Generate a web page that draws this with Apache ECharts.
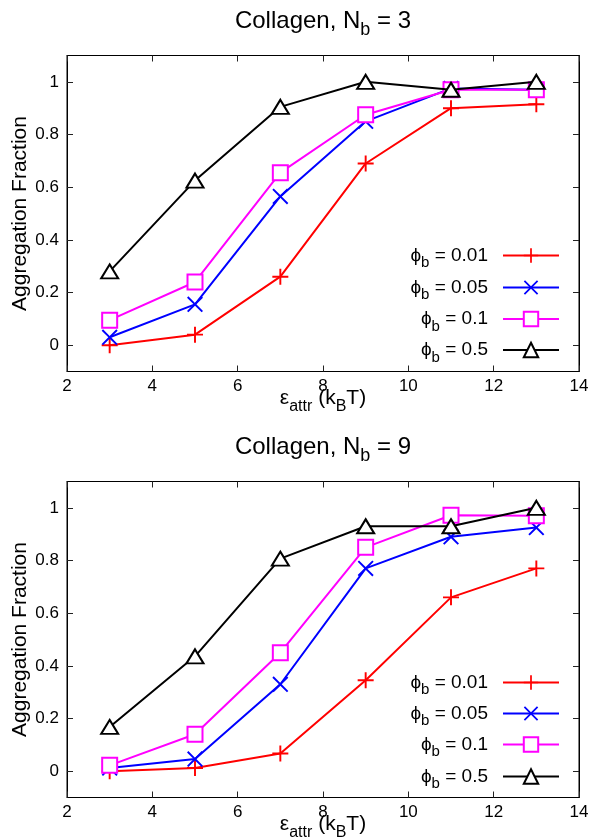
<!DOCTYPE html>
<html><head><meta charset="utf-8">
<script src="https://cdn.jsdelivr.net/npm/echarts@6/dist/echarts.min.js"></script>
<style>html,body{margin:0;padding:0;background:#fff}#c{width:592px;height:837px}</style>
</head><body><div id="c"></div>
<script>
// x values: epsilon_attr (kBT)
const epsAttr = [3, 5, 7, 9, 11, 13];
const phiLabels = ['0.01', '0.05', '0.1', '0.5'];
const panelNb = ['3', '9'];
const xTicks = [2, 4, 6, 8, 10, 12, 14];
const yTicks = [0, 0.2, 0.4, 0.6, 0.8, 1];

// Collagen, N_b = 3
const nb3_phi001 = [0.0, 0.04, 0.26, 0.69, 0.90, 0.915];
const nb3_phi005 = [0.03, 0.155, 0.565, 0.85, 0.975, 0.97];
const nb3_phi01  = [0.095, 0.24, 0.655, 0.875, 0.97, 0.97];
const nb3_phi05  = [0.28, 0.625, 0.905, 1.0, 0.97, 1.0];
// Collagen, N_b = 9
const nb9_phi001 = [0.0, 0.012, 0.067, 0.345, 0.66, 0.77];
const nb9_phi005 = [0.012, 0.046, 0.33, 0.77, 0.89, 0.925];
const nb9_phi01  = [0.022, 0.14, 0.45, 0.85, 0.972, 0.97];
const nb9_phi05  = [0.168, 0.436, 0.807, 0.93, 0.93, 1.0];

const panels = [
  [nb3_phi001, nb3_phi005, nb3_phi01, nb3_phi05],
  [nb9_phi001, nb9_phi005, nb9_phi01, nb9_phi05]
];

const FONT = '"Liberation Sans", Arial, Helvetica, sans-serif';
const colors = ['#ff0000', '#0000ff', '#ff00ff', '#000000'];
const PLUS = 'path://M4.4,0H5.6V4.4H10V5.6H5.6V10H4.4V5.6H0V4.4H4.4Z';
const CROSS = 'path://M0,0.85L0.85,0L5,4.15L9.15,0L10,0.85L5.85,5L10,9.15L9.15,10L5,5.85L0.85,10L0,9.15L4.15,5Z';
const symbols = [PLUS, CROSS, 'emptyRect', 'emptyTriangle'];
const symbolSizes = [16, 16, 15, [17, 14]];

const gridTops = [55.5, 481.5];
const gridH = 316;
const titleTops = [3, 429];
const legendRowCenters = [[255, 287, 318.5, 349.5], [682, 713, 744, 776]];

const grids = [], xAxes = [], yAxes = [], series = [], titles = [], legends = [];

const tickStyle = { show: true, inside: true, length: 6, lineStyle: { color: '#222', width: 1 } };
const lineStyleAxis = { show: true, onZero: false, lineStyle: { color: '#000', width: 1 } };

panelNb.forEach((nb, p) => {
  grids.push({ left: 67, right: 13, top: gridTops[p], height: gridH,
    outerBoundsMode: 'none', containLabel: false,
    show: true, borderColor: '#000', borderWidth: 1, backgroundColor: 'transparent' });
  titles.push({
    text: '{m|Collagen, N}{s|b}{m| = ' + nb + '}',
    left: 323, top: titleTops[p], textAlign: 'center', padding: 0,
    textStyle: { fontWeight: 'normal', rich: {
      m: { fontFamily: FONT, fontSize: 24, fontWeight: 'normal', lineHeight: 36, color: '#000' },
      s: { fontFamily: FONT, fontSize: 18, fontWeight: 'normal', lineHeight: 18, verticalAlign: 'bottom', color: '#000' }
    } }
  });
  const xBase = { type: 'value', gridIndex: p, min: 2, max: 14, interval: 2,
    splitLine: { show: false }, axisLine: lineStyleAxis };
  xAxes.push(Object.assign({}, xBase, {
    position: 'bottom',
    axisTick: tickStyle,
    axisLabel: { show: true, margin: 6, color: '#000', fontFamily: FONT, fontSize: 17,
      customValues: xTicks },
    name: '{e|ε}{s|attr}{m| (k}{s|B}{m|T)}',
    nameLocation: 'middle', nameGap: 11, nameMoveOverlap: false,
    nameTextStyle: { rich: {
      e: { fontFamily: FONT, fontSize: 21, lineHeight: 32, color: '#000' },
      m: { fontFamily: FONT, fontSize: 21, lineHeight: 32, color: '#000' },
      s: { fontFamily: FONT, fontSize: 16, lineHeight: 16, verticalAlign: 'bottom', color: '#000' }
    } }
  }));
  xAxes.push(Object.assign({}, xBase, {
    position: 'top', axisTick: tickStyle, axisLabel: { show: false }
  }));
  const yBase = { type: 'value', gridIndex: p, min: -0.1, max: 1.1,
    splitLine: { show: false }, axisLine: lineStyleAxis };
  yAxes.push(Object.assign({}, yBase, {
    position: 'left',
    axisTick: Object.assign({}, tickStyle, { customValues: yTicks }),
    axisLabel: { show: true, margin: 8, color: '#000', fontFamily: FONT, fontSize: 17,
      customValues: yTicks, formatter: v => String(Math.round(v * 10) / 10) },
    name: 'Aggregation Fraction', nameLocation: 'middle', nameGap: 36, nameMoveOverlap: false,
    nameTextStyle: { fontFamily: FONT, fontSize: 21, color: '#000' }
  }));
  yAxes.push(Object.assign({}, yBase, {
    position: 'right',
    axisTick: Object.assign({}, tickStyle, { customValues: yTicks }),
    axisLabel: { show: false }
  }));

  panels[p].forEach((vals, k) => {
    const empty = k >= 2;
    series.push({
      type: 'line', name: phiLabels[k],
      xAxisIndex: p * 2, yAxisIndex: p * 2,
      data: epsAttr.map((x, i) => [x, vals[i]]),
      symbol: symbols[k], symbolSize: symbolSizes[k],
      showAllSymbol: true,
      color: colors[k],
      lineStyle: { color: colors[k], width: 2 },
      itemStyle: { color: colors[k], borderColor: colors[k], borderWidth: empty ? 2 : 0 },
      emphasis: { disabled: true },
      z: 2 + k
    });
    const c = legendRowCenters[p][k];
    legends.push({
      data: [phiLabels[k]], orient: 'vertical', align: 'right',
      right: 32, top: c - 9, padding: 0,
      itemWidth: 56, itemHeight: 18, selectedMode: false,
      formatter: name => '{p|ϕ}{s|b}{t| = ' + name + '}',
      textStyle: { rich: {
        p: { fontFamily: FONT, fontSize: 19, lineHeight: 30, color: '#000' },
        s: { fontFamily: FONT, fontSize: 15, lineHeight: 16, verticalAlign: 'bottom', color: '#000' },
        t: { fontFamily: FONT, fontSize: 19, lineHeight: 30, color: '#000', padding: [0, 10, 0, 0] }
      } }
    });
  });
});

const chart = echarts.init(document.getElementById('c'), null, { renderer: 'canvas' });
chart.setOption({
  animation: false,
  backgroundColor: '#fff',
  title: titles,
  grid: grids,
  xAxis: xAxes,
  yAxis: yAxes,
  legend: legends,
  series: series
});
</script></body></html>
